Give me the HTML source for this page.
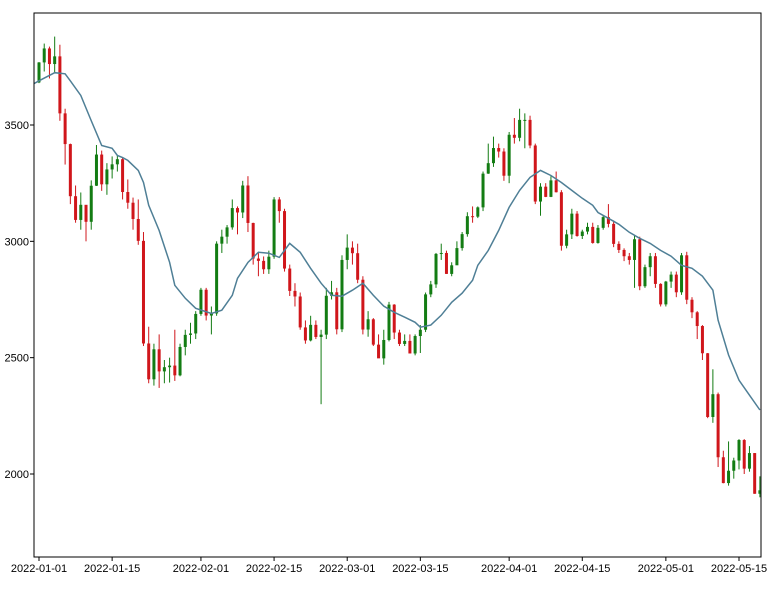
<!DOCTYPE html>
<html><head><meta charset="utf-8"><style>
body{margin:0;background:#fff;}
svg{display:block;font-family:"Liberation Sans","DejaVu Sans",sans-serif;}
</style></head><body>
<svg id="chart" width="776" height="590" xmlns="http://www.w3.org/2000/svg"></svg>
<script>
const tickDays = [0,14,31,45,59,73,90,104,120,134];
const tickLabels = ["2022-01-01","2022-01-15","2022-02-01","2022-02-15","2022-03-01","2022-03-15","2022-04-01","2022-04-15","2022-05-01","2022-05-15"];
const yTicks = [2000,2500,3000,3500];
const closes = [3769,3829,3762,3795,3550,3418,3194,3092,3157,3084,3239,3373,3245,3309,3331,3353,3212,3166,3096,3002,2561,2407,2536,2441,2459,2466,2424,2546,2598,2604,2688,
2792,2681,2690,2990,3020,3060,3143,3124,3240,3079,2926,2916,2880,2934,3180,3130,2883,2787,2763,2630,2574,2641,2589,2599,2766,2781,2622,2920,
2973,2949,2835,2621,2665,2556,2497,2576,2728,2608,2559,2572,2518,2593,2620,2772,2815,2946,2950,2860,2897,2971,3031,3108,3106,3146,3291,3336,3401,3386,3282,
3458,3445,3522,3522,3412,3171,3235,3191,3262,3211,2981,3030,3119,3023,3042,3062,2993,3058,3104,3075,2989,2963,2936,2920,3009,2807,2889,2936,2817,2729,
2827,2857,2781,2940,2749,2695,2636,2519,2245,2343,2072,1961,2014,2058,2146,2023,2090,1915,1930];
const opens = [3683,3769,3829,3762,3795,3550,3418,3194,3092,3157,3084,3239,3373,3245,3309,3331,3353,3212,3166,3096,3002,2561,2407,2536,2441,2459,2466,2424,2546,2598,2604,
2688,2792,2681,2690,2990,3020,3060,3143,3124,3240,3079,2926,2916,2880,2934,3180,3130,2883,2787,2763,2630,2574,2641,2589,2599,2766,2781,2622,
2920,2973,2949,2835,2621,2665,2556,2497,2576,2728,2608,2559,2572,2518,2593,2620,2772,2815,2946,2950,2860,2897,2971,3031,3108,3106,3146,3291,3336,3401,3386,
3282,3458,3445,3522,3522,3412,3171,3235,3191,3262,3211,2981,3030,3119,3023,3042,3062,2993,3058,3104,3075,2989,2963,2936,2920,3009,2807,2889,2936,2817,
2729,2827,2857,2781,2940,2749,2695,2636,2519,2245,2343,2072,1961,2014,2058,2146,2023,2090,1915];
const highs = [3770,3850,3837,3880,3845,3570,3420,3240,3210,3150,3262,3414,3390,3336,3365,3370,3360,3266,3188,3180,3040,2633,2560,2600,2490,2500,2620,2560,2620,2650,2700,
2800,2800,2720,3000,3050,3070,3180,3150,3260,3280,3080,2950,2935,2960,3190,3190,3140,2900,2820,2780,2660,2680,2660,2620,2800,2830,2800,2940,
3030,3000,2990,2850,2700,2670,2600,2620,2740,2730,2620,2600,2600,2600,2640,2780,2830,2950,2990,2960,2910,3000,3040,3125,3150,3150,3300,3420,3450,3420,3400,
3470,3530,3570,3550,3540,3420,3250,3250,3280,3300,3220,3050,3140,3130,3050,3080,3080,3070,3110,3160,3090,3000,2970,2950,3025,3020,2900,2950,2950,2820,
2830,2870,2870,2950,2955,2760,2700,2640,2520,2450,2350,2100,2140,2070,2150,2150,2120,2090,1990];
const lows = [3680,3730,3700,3727,3518,3330,3160,3080,3050,3000,3050,3238,3217,3200,3270,3300,3180,3140,3050,2985,2550,2390,2380,2370,2390,2393,2400,2420,2510,2560,2580,
2680,2660,2600,2680,2950,2990,3050,3030,3100,3040,2900,2850,2860,2860,2925,3080,2870,2765,2720,2620,2560,2570,2580,2300,2580,2750,2600,2610,
2880,2900,2820,2600,2590,2550,2500,2470,2570,2580,2550,2550,2520,2510,2520,2610,2760,2800,2920,2860,2850,2900,2960,3020,3080,3100,3130,3290,3320,3360,3260,
3250,3420,3430,3400,3400,3160,3110,3190,3190,3210,2960,2970,3010,3020,3010,3030,2990,2990,3050,3060,2975,2950,2915,2900,2800,2790,2800,2850,2800,2720,
2720,2800,2760,2770,2730,2670,2580,2490,2240,2220,2030,1960,1950,1980,2020,2000,2010,1915,1900];
const maDays = [-1,0,3,5,6,8,10,12,14,15,16,17,19,20,21,23,25,26,28,30,33,35,37,38,40,42,44,46,48,50,52,54,56,58,60,62,64,66,68,70,72,73,75,77,79,81,83,84,86,88,90,92,94,96,98,100,102,104,106,107,109,111,113,115,117,119,121,123,125,127,129,130,132,134,136,138];
const maValues = [3678,3690,3725,3720,3690,3627,3519,3412,3400,3369,3360,3348,3305,3253,3155,3047,2910,2811,2755,2712,2690,2704,2768,2841,2910,2953,2949,2931,2991,2953,2884,2820,2768,2764,2790,2820,2768,2721,2695,2674,2652,2631,2640,2682,2738,2777,2833,2897,2961,3047,3146,3219,3275,3305,3283,3253,3219,3185,3155,3124,3099,3073,3039,3013,2991,2961,2936,2897,2884,2850,2790,2661,2511,2403,2339,2275,2197];

const svg = document.getElementById('chart');
const NS = 'http://www.w3.org/2000/svg';
const L=34,R=761,T=13,B=557;
function xs(d){return 39 + d*(700/134);}
function ys(v){return 474 - (v-2000)*(349/1500);}
function mk(tag,attrs){const e=document.createElementNS(NS,tag);for(const k in attrs)e.setAttribute(k,attrs[k]);svg.appendChild(e);return e;}

for(let i=0;i<closes.length;i++){
  const up = closes[i]>=opens[i];
  const col = up ? '#137c13' : '#d0161b';
  const x = xs(i);
  const w = mk('line',{x1:x,x2:x,y1:ys(highs[i]),y2:ys(lows[i]),stroke:col,'stroke-width':1});
  
  
  const top = ys(Math.max(opens[i],closes[i])), bot = ys(Math.min(opens[i],closes[i]));
  const b = mk('rect',{x:x-1.5,y:top,width:3,height:Math.max(1,bot-top),fill:col});
  
  
}
let dstr='';
for(let i=0;i<maDays.length;i++){dstr+=(i?'L':'M')+Math.max(L,xs(maDays[i])).toFixed(1)+' '+ys(maValues[i]).toFixed(1);}
const ma = mk('path',{d:dstr,fill:'none',stroke:'#4f7f96','stroke-width':1.5});



const frame = mk('rect',{x:L,y:T,width:R-L,height:B-T,fill:'none',stroke:'#000','stroke-width':1});



for(let i=0;i<tickDays.length;i++){
  const x=xs(tickDays[i]);
  const t=mk('line',{x1:x,x2:x,y1:B,y2:B+4,stroke:'#000'});
  
  
  const lb=mk('text',{x:x,y:B+15,'font-size':11,'text-anchor':'middle',fill:'#000'});
  lb.textContent=tickLabels[i];
  
  
}
for(const v of yTicks){
  const y=ys(v);
  const t=mk('line',{x1:L-4,x2:L,y1:y,y2:y,stroke:'#000'});
  
  
  const lb=mk('text',{x:L-5,y:y+4,'font-size':11,'text-anchor':'end',fill:'#000'});
  lb.textContent=v;
  
  
}
</script>
</body></html>
